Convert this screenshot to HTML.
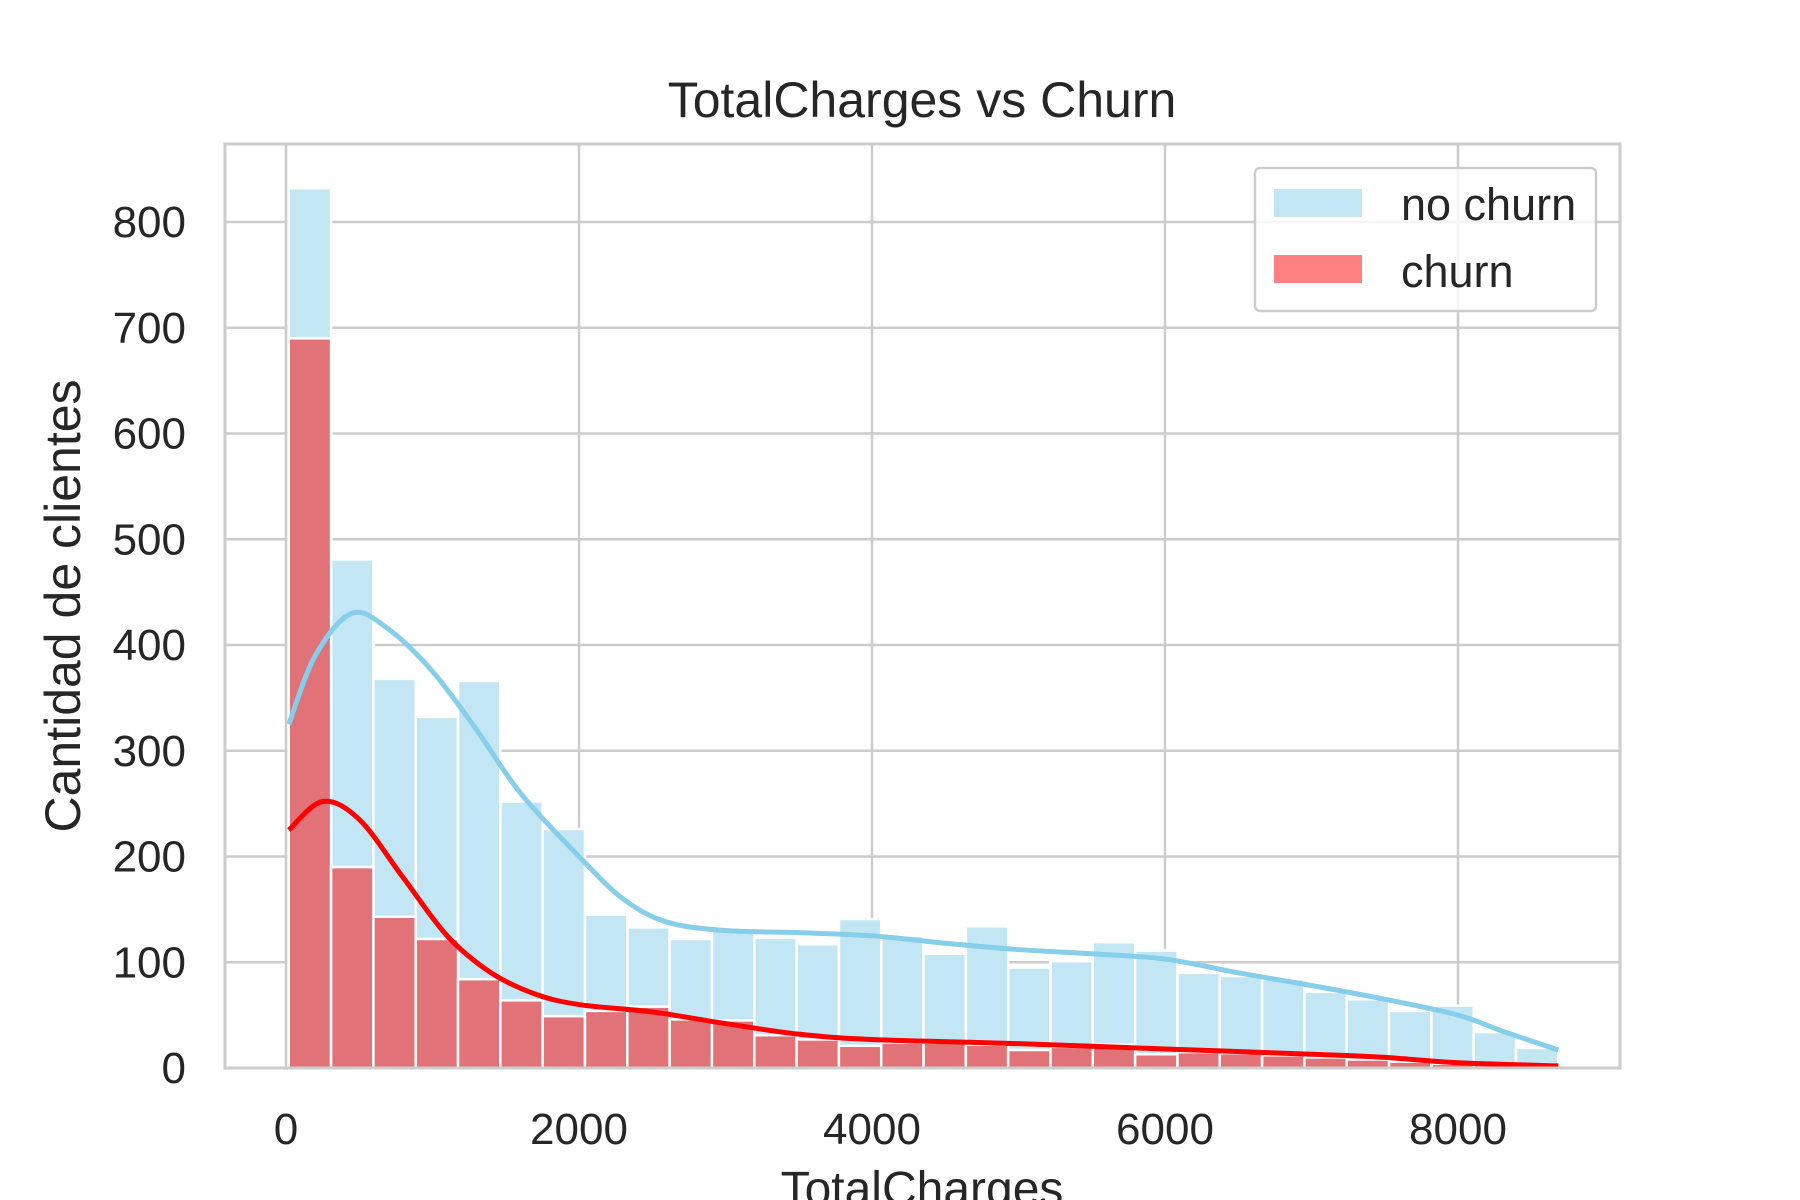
<!DOCTYPE html>
<html><head><meta charset="utf-8"><style>
html,body{margin:0;padding:0;background:#fff}
svg{display:block;font-family:"Liberation Sans",Arial,sans-serif}
</style></head><body>
<svg id="chart" width="1800" height="1200" viewBox="0 0 1800 1200">
<g id="grid"></g>
<g id="bars"></g>
<g id="kde"></g>
<g id="axes"></g>
<text x="922" y="117" text-anchor="middle" font-size="50" fill="#262626">TotalCharges vs Churn</text>
<text x="922" y="1205" text-anchor="middle" font-size="48" fill="#262626">TotalCharges</text>
<text transform="translate(80,606) rotate(-90)" text-anchor="middle" font-size="50" fill="#262626">Cantidad de clientes</text>
<g>
<rect x="1255" y="168" width="341" height="143" rx="5" fill="#fff" fill-opacity="0.8" stroke="#cccccc" stroke-width="2.5"/>
<rect x="1274" y="189" width="88" height="28" fill="#c3e6f5"/>
<text x="1401" y="220" font-size="45" fill="#262626">no churn</text>
<rect x="1274" y="255" width="88" height="28" fill="#ff8080"/>
<text x="1401" y="287" font-size="45" fill="#262626">churn</text>
</g>
</svg>
<script>
const binStart = 18.8;
const binWidth = 288.87;
const noChurnCounts = [832,481,368,332,366,252,226,145,133,122,130,123,117,141,125,108,134,95,101,119,111,90,87,84,72,65,54,59,34,19];
const churnCounts = [690,190,143,122,84,64,49,54,58,46,45,31,27,21,24,24,22,17,20,22,13,15,14,12,10,8,6,4,3,2];
const kdeNoChurnX = [18.8,200,450,700,1000,1300,1600,2000,2300,2600,3000,3500,4000,4500,5000,5500,6000,6500,7000,7500,8000,8300,8685];
const kdeNoChurnY = [325,390,430,415,375,320,260,200,160,138,130,128,125,118,112,108,103,90,78,65,50,35,17];
const kdeChurnX = [18.8,250,500,800,1100,1400,1700,2000,2500,3000,3500,4000,5000,6000,7000,7500,8000,8685];
const kdeChurnY = [225,252,235,180,125,90,70,60,53,42,32,27,23,18,13,10,5,2];
const xTicks = [0,2000,4000,6000,8000];
const yTicks = [0,100,200,300,400,500,600,700,800];

const L=225,R=1620,T=144,B=1068;
const X=v=>286+v*(293/2000);
const Y=v=>B-v*(846/800);
const NS='http://www.w3.org/2000/svg';
function mk(tag,attrs,parent){const e=document.createElementNS(NS,tag);for(const k in attrs)e.setAttribute(k,attrs[k]);parent.appendChild(e);return e;}
const grid=document.getElementById('grid'),bars=document.getElementById('bars'),kde=document.getElementById('kde'),axes=document.getElementById('axes');
mk('rect',{x:L,y:T,width:R-L,height:B-T,fill:'#fff'},grid);
xTicks.forEach(t=>{
  const l=mk('line',{x1:X(t),x2:X(t),y1:T,y2:B,stroke:'#cccccc','stroke-width':2.5},grid);
  
  
  const tx=mk('text',{x:X(t),y:1144,'text-anchor':'middle','font-size':44,fill:'#262626'},axes);
  tx.textContent=t;
  
  
});
yTicks.forEach(t=>{
  const l=mk('line',{x1:L,x2:R,y1:Y(t),y2:Y(t),stroke:'#cccccc','stroke-width':2.5},grid);
  
  
  const tx=mk('text',{x:186,y:Y(t)+15,'text-anchor':'end','font-size':44,fill:'#262626'},axes);
  tx.textContent=t;
  
  
});
function drawBars(arr,fill,name){
  arr.forEach((v,i)=>{
    const x0=X(binStart+i*binWidth),x1=X(binStart+(i+1)*binWidth);
    const r=mk('rect',{x:x0,y:Y(v),width:x1-x0,height:B-Y(v),fill:fill,stroke:'#fff','stroke-width':2.5},bars);
    
    
  });
}
drawBars(noChurnCounts,'#c3e6f5','no-churn');
drawBars(churnCounts,'#e07278','churn');
function smooth(xs,ys){
  const p=xs.map((x,i)=>[X(x),Y(ys[i])]);
  let d='M'+p[0][0]+','+p[0][1];
  for(let i=0;i<p.length-1;i++){
    const p0=p[i-1]||p[i],p1=p[i],p2=p[i+1],p3=p[i+2]||p2;
    const c1=[p1[0]+(p2[0]-p0[0])/6,p1[1]+(p2[1]-p0[1])/6];
    const c2=[p2[0]-(p3[0]-p1[0])/6,p2[1]-(p3[1]-p1[1])/6];
    d+=' C'+c1[0]+','+c1[1]+' '+c2[0]+','+c2[1]+' '+p2[0]+','+p2[1];
  }
  return d;
}
const k1=mk('path',{d:smooth(kdeNoChurnX,kdeNoChurnY),fill:'none',stroke:'#87ceeb','stroke-width':5},kde);


const k2=mk('path',{d:smooth(kdeChurnX,kdeChurnY),fill:'none',stroke:'#ff0000','stroke-width':5},kde);


mk('rect',{x:L,y:T,width:R-L,height:B-T,fill:'none',stroke:'#cccccc','stroke-width':3},axes);
</script>
</body></html>
